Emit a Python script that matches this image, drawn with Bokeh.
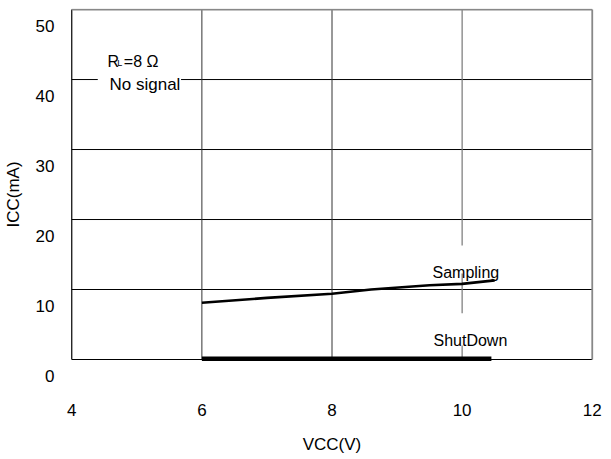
from bokeh.plotting import figure
from bokeh.models import Range1d, LinearAxis, FixedTicker, Label
from bokeh.embed import file_html
from bokeh.resources import INLINE

# ---- data ----
vcc_sampling = [6.0, 7.0, 8.0, 8.6, 9.5, 10.0, 10.5]
icc_sampling = [8.1, 8.8, 9.4, 10.0, 10.6, 10.8, 11.3]
vcc_shutdown = [6.0, 10.45]
icc_shutdown = [0.1, 0.1]
x_ticks = [4, 6, 8, 10, 12]
y_ticks = [0, 10, 20, 30, 40, 50]

FONT = "Liberation Sans"
X0, X1 = x_ticks[0], x_ticks[-1]
Y0, Y1 = y_ticks[0], y_ticks[-1]

p = figure(width=611, height=459,
           x_range=Range1d(3.95, 12.05), y_range=Range1d(-3, 50.15),
           output_backend="svg", toolbar_location=None,
           y_axis_location=None,
           min_border_left=68, min_border_right=16,
           min_border_top=8, min_border_bottom=79)
p.outline_line_color = None
p.xgrid.visible = False
p.ygrid.visible = False

# y labels sit about 16 px below their grid lines in the reference
off = 16 / 7.0
p.extra_y_ranges = {"lab": Range1d(-3 + off, 50.15 + off)}
yax = LinearAxis(y_range_name="lab", ticker=FixedTicker(ticks=y_ticks),
                 axis_label="ICC(mA)")
yax.axis_line_color = None
yax.major_tick_line_color = None
yax.minor_tick_line_color = None
yax.major_label_standoff = 8
yax.major_label_text_font = FONT
yax.major_label_text_font_size = "17px"
yax.major_label_text_color = "black"
yax.axis_label_text_font = FONT
yax.axis_label_text_font_size = "17px"
yax.axis_label_text_font_style = "normal"
yax.axis_label_text_color = "black"
yax.axis_label_standoff = 10
p.add_layout(yax, "left")

xax = p.xaxis[0]
xax.ticker = FixedTicker(ticks=x_ticks)
xax.axis_line_color = None
xax.major_tick_line_color = None
xax.minor_tick_line_color = None
xax.major_label_standoff = 17
xax.major_label_text_font = FONT
xax.major_label_text_font_size = "17px"
xax.major_label_text_color = "black"
xax.axis_label = "VCC(V)"
xax.axis_label_text_font = FONT
xax.axis_label_text_font_size = "17px"
xax.axis_label_text_font_style = "normal"
xax.axis_label_text_color = "black"
xax.axis_label_standoff = 16

# horizontal grid lines (40 has a gap behind the annotation)
hy = [v for v in y_ticks[1:-1] if v != 40]
p.segment(x0=[X0] * len(hy), y0=hy, x1=[X1] * len(hy), y1=hy,
          line_color="black", line_width=1)
p.segment(x0=[X0, 5.68], y0=[40, 40], x1=[4.40, X1], y1=[40, 40],
          line_color="black", line_width=1)
# vertical grid lines
p.segment(x0=[6, 8], y0=[Y0, Y0], x1=[6, 8], y1=[Y1, Y1],
          line_color="#333333", line_width=1)
p.segment(x0=[10, 10, 10], y0=[16.3, 6.6, Y0], x1=[10, 10, 10], y1=[Y1, 12.3, 2.0],
          line_color="#777777", line_width=1.2)
# frame
p.segment(x0=[X0, X0], y0=[Y0, Y0], x1=[X1, X0], y1=[Y0, Y1],
          line_color="black", line_width=1.2)
p.segment(x0=[X0, X1], y0=[Y1, Y0], x1=[X1, X1], y1=[Y1, Y1],
          line_color="#888888", line_width=1.8)

# curves
p.line(vcc_sampling, icc_sampling, line_color="black", line_width=2.6)
p.line(vcc_shutdown, icc_shutdown, line_color="black", line_width=4.5)

def lab(x, y, t, size="16px"):
    p.add_layout(Label(x=x, y=y, text=t, text_font=FONT, text_font_size=size,
                       text_align="left", text_baseline="middle", text_color="black"))

lab(4.55, 42.57, "R", "16px")
lab(4.70, 42.35, "L", "9px")
lab(4.80, 42.57, "=8 Ω", "16px")
lab(4.58, 39.29, "No signal", "17px")
lab(9.545, 12.43, "Sampling", "16px")
lab(9.56, 2.71, "ShutDown", "16px")

open("out.html", "w").write(file_html(p, INLINE))
